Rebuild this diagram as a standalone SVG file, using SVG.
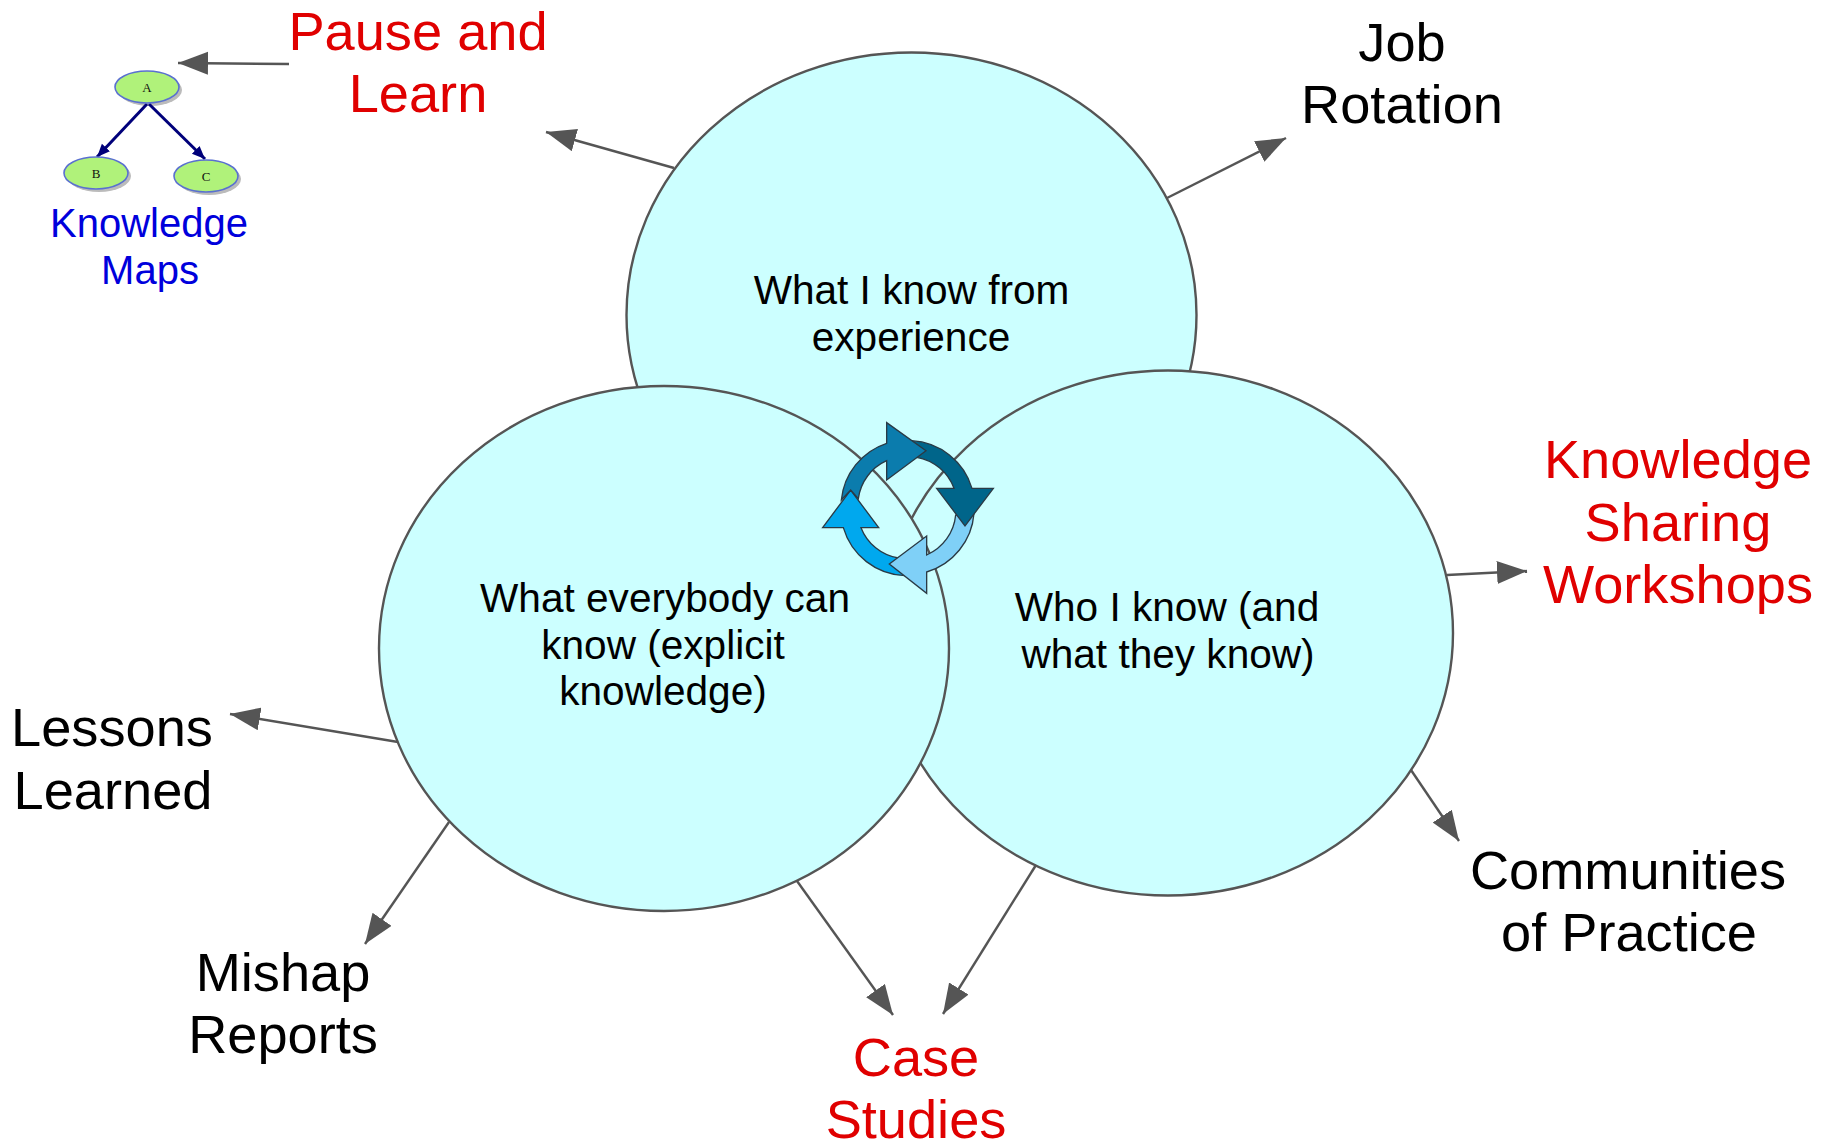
<svg xmlns="http://www.w3.org/2000/svg" width="1830" height="1141" viewBox="0 0 1830 1141">
<style>
text{font-family:"Liberation Sans",Arial,sans-serif;text-anchor:middle}
.big{font-size:54.2px}
.mid{font-size:40.6px;fill:#000}
.red{fill:#e00000}
.blk{fill:#000}
.blu{fill:#0000dc;font-size:40px}
.circ{fill:#ccffff;stroke:#555;stroke-width:2.4}
.con{stroke:#555;stroke-width:2.4;fill:none;marker-end:url(#ah)}
.cyc{stroke:#2a3a45;stroke-width:4}
.me{fill:#b0f27a;stroke:#5a70d0;stroke-width:1.6}
.ms{fill:#bbb}
.ml{stroke:#00007a;stroke-width:3;fill:none;marker-end:url(#mh)}
.mt{font-family:"Liberation Serif",serif;font-size:13px;fill:#111}
</style>
<defs>
<marker id="ah" markerUnits="userSpaceOnUse" markerWidth="32" markerHeight="24" refX="30" refY="11.5" orient="auto"><path d="M0,0 L30,11.5 L0,23 Z" fill="#555"/></marker>
<marker id="mh" markerUnits="userSpaceOnUse" markerWidth="14" markerHeight="12" refX="13" refY="5.5" orient="auto"><path d="M0,0 L13,5.5 L0,11 Z" fill="#00007a"/></marker>
</defs>
<rect width="1830" height="1141" fill="#fff"/>
<g id="circle-experience"><ellipse class="circ" cx="911.5" cy="315" rx="285" ry="262.5"/><text class="mid" x="911.5" y="304">What I know from</text><text class="mid" x="911" y="351">experience</text></g>
<g id="circle-who"><ellipse class="circ" cx="1168" cy="633" rx="285" ry="262.5"/><text class="mid" x="1167" y="621">Who I know (and</text><text class="mid" x="1168" y="668">what they know)</text></g>
<g id="circle-everybody"><ellipse class="circ" cx="664" cy="648.5" rx="285" ry="262.5"/><text class="mid" x="665" y="612">What everybody can</text><text class="mid" x="663" y="659">know (explicit</text><text class="mid" x="663" y="705">knowledge)</text></g>
<g id="connectors">
<path class="con" d="M289,64 L178,63"/>
<path class="con" d="M674,168 L546,132"/>
<path class="con" d="M1167,198 L1286,138"/>
<path class="con" d="M1447,575 L1527,571"/>
<path class="con" d="M1411,770 L1459,841"/>
<path class="con" d="M1036,865 L943,1014"/>
<path class="con" d="M797,881 L893,1015"/>
<path class="con" d="M449,822 L365,944"/>
<path class="con" d="M398,742 L230,714"/>
</g>
<g id="cycle" class="cyc" transform="translate(790 400) scale(.33333)">
<path fill="#00a8ee" d="M345,527 A200,200 0 0 1 160,383 L98,383 L182,270 L266,383 L213,383 A146,146 0 0 0 325,474 Z"/>
<path fill="#7fd0f7" d="M552,340 A200,200 0 0 1 410,516 L410,580 L298,492 L410,408 L410,465 A146,146 0 0 0 497,345 Z"/>
<path fill="#00658a" d="M365,122 A200,200 0 0 1 546,265 L610,265 L525,378 L440,265 L492,265 A146,146 0 0 0 380,172 Z"/>
<path fill="#0b7cad" d="M154,300 A200,200 0 0 1 290,130 L290,68 L408,152 L290,240 L290,182 A146,146 0 0 0 205,296 L182,270 Z"/>
</g>
<g id="knowledge-map">
<ellipse class="ms" cx="150" cy="90" rx="32" ry="16"/><ellipse class="ms" cx="99" cy="176" rx="32" ry="16"/><ellipse class="ms" cx="209" cy="179" rx="32" ry="16"/>
<path class="ml" d="M147,104 L97,157"/><path class="ml" d="M149,104 L205,159"/>
<ellipse class="me" cx="147" cy="87" rx="32" ry="16"/><ellipse class="me" cx="96" cy="173" rx="32" ry="16"/><ellipse class="me" cx="206" cy="176" rx="32" ry="16"/>
<text class="mt" x="147" y="92">A</text><text class="mt" x="96" y="178">B</text><text class="mt" x="206" y="181">C</text>
<text class="blu" x="149" y="237">Knowledge</text><text class="blu" x="150" y="284">Maps</text>
</g>
<g id="label-pause"><text class="big red" x="418" y="50">Pause and</text><text class="big red" x="418" y="112">Learn</text></g>
<g id="label-job"><text class="big blk" x="1402" y="61">Job</text><text class="big blk" x="1402" y="123">Rotation</text></g>
<g id="label-sharing"><text class="big red" x="1678" y="478">Knowledge</text><text class="big red" x="1678" y="541">Sharing</text><text class="big red" x="1678" y="603">Workshops</text></g>
<g id="label-lessons"><text class="big blk" x="112" y="746">Lessons</text><text class="big blk" x="113" y="809">Learned</text></g>
<g id="label-mishap"><text class="big blk" x="283" y="991">Mishap</text><text class="big blk" x="283" y="1053">Reports</text></g>
<g id="label-case"><text class="big red" x="916" y="1076">Case</text><text class="big red" x="916" y="1138">Studies</text></g>
<g id="label-communities"><text class="big blk" x="1628" y="889">Communities</text><text class="big blk" x="1629" y="951">of Practice</text></g>
</svg>
